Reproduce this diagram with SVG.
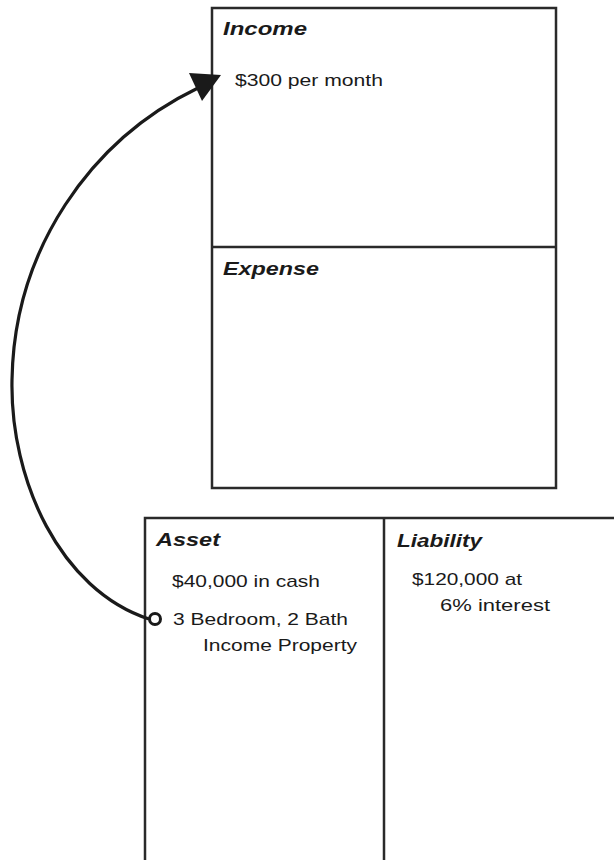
<svg xmlns="http://www.w3.org/2000/svg" width="614" height="860" viewBox="0 0 614 860">
<style>
.box{fill:#fff;stroke:#2a2a2a;stroke-width:2.5}
.div{stroke:#2a2a2a;stroke-width:2.5;fill:none}
.hd{font-family:"Liberation Sans",Arial,sans-serif;font-weight:bold;font-style:italic;font-size:18px;fill:#1a1a1a}
.tx{font-family:"Liberation Sans",Arial,sans-serif;font-size:17px;fill:#1a1a1a}
.conn{fill:none;stroke:#1a1a1a;stroke-width:3.2}
</style>
<rect width="614" height="860" fill="#fff"/>
<g id="income">
<rect class="box" x="212" y="8" width="344" height="480"/>
<text class="hd" x="223" y="35" textLength="84" lengthAdjust="spacingAndGlyphs">Income</text>
<text class="tx" x="235" y="86" textLength="148" lengthAdjust="spacingAndGlyphs">$300 per month</text>
</g>
<g id="expense">
<line class="div" x1="212" y1="247" x2="556" y2="247"/>
<text class="hd" x="223" y="275" textLength="96" lengthAdjust="spacingAndGlyphs">Expense</text>
</g>
<g id="asset">
<rect class="box" x="145" y="518" width="480" height="360"/>
<text class="hd" x="156" y="546" textLength="64" lengthAdjust="spacingAndGlyphs">Asset</text>
<text class="tx" x="172" y="587" textLength="148" lengthAdjust="spacingAndGlyphs">$40,000 in cash</text>
<text class="tx" x="173" y="625" textLength="175" lengthAdjust="spacingAndGlyphs">3 Bedroom, 2 Bath</text>
<text class="tx" x="203" y="651" textLength="154" lengthAdjust="spacingAndGlyphs">Income Property</text>
</g>
<g id="liability">
<line class="div" x1="384" y1="518" x2="384" y2="860"/>
<text class="hd" x="397" y="547" textLength="85" lengthAdjust="spacingAndGlyphs">Liability</text>
<text class="tx" x="412" y="585" textLength="110" lengthAdjust="spacingAndGlyphs">$120,000 at</text>
<text class="tx" x="440" y="611" textLength="110" lengthAdjust="spacingAndGlyphs">6% interest</text>
</g>
<g id="connectors">
<path class="conn" d="M149,619 C60,590 10,480 12,380 C14,250 90,140 198,88"/>
<polygon points="189,73 221,75 202,101" fill="#1a1a1a"/>
<circle cx="155" cy="619" r="5.5" fill="#fff" stroke="#1a1a1a" stroke-width="3"/>
</g>
</svg>
